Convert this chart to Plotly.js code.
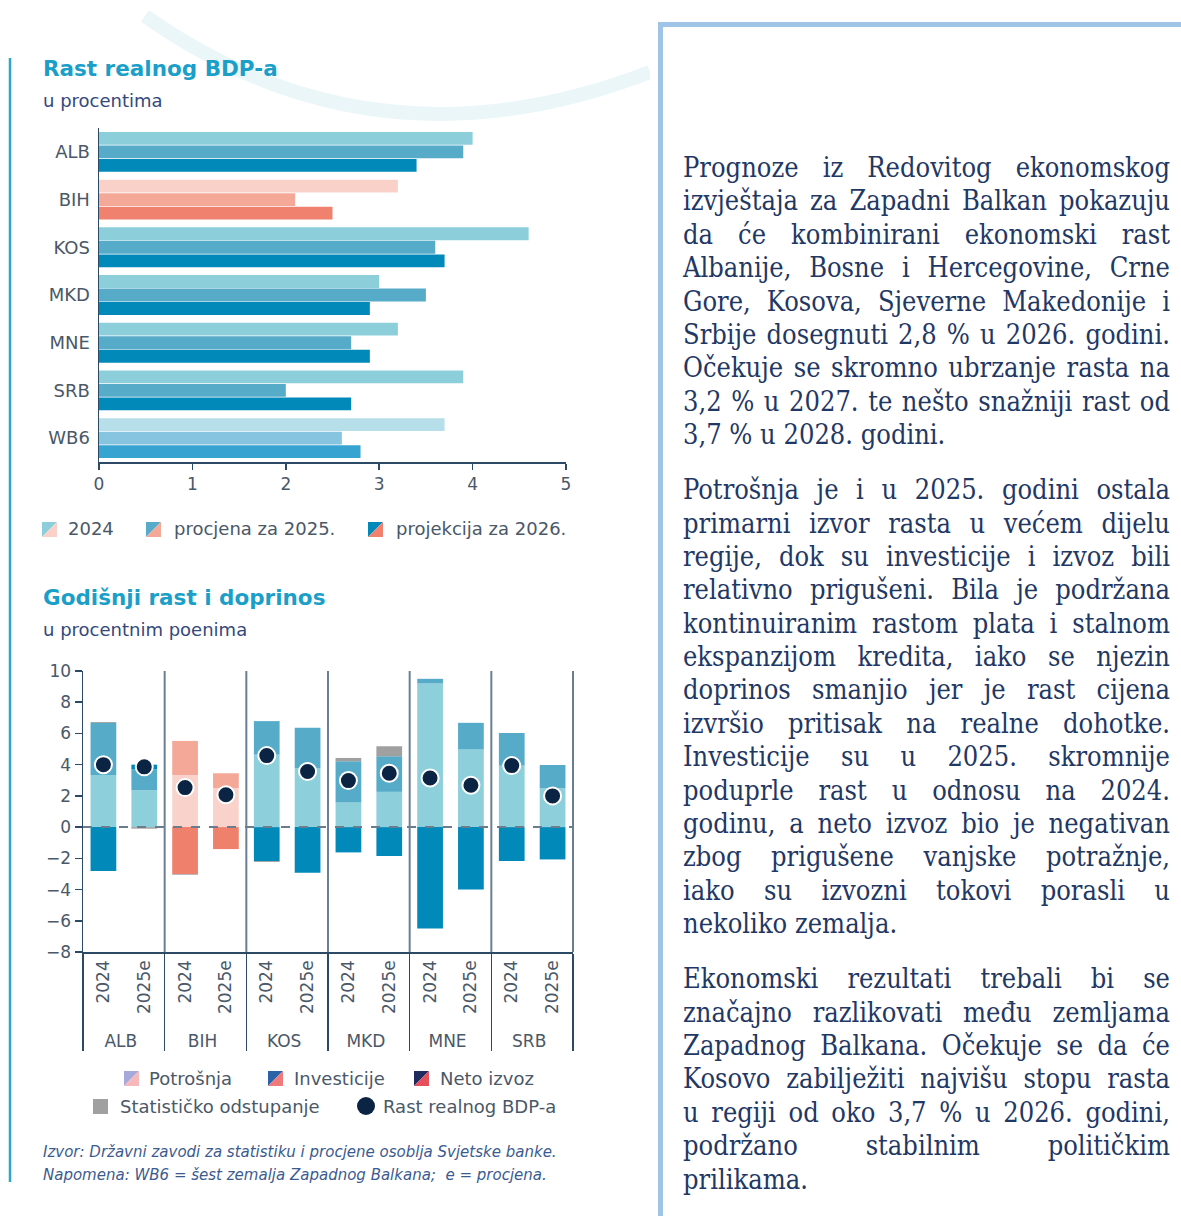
<!DOCTYPE html>
<html>
<head>
<meta charset="utf-8">
<script src="https://cdn.plot.ly/plotly-3.0.1.min.js"></script>
<style>
html,body{margin:0;padding:0;background:#fff;width:1181px;height:1216px;overflow:hidden;}
#figA,#figB{position:absolute;left:0;top:0;width:650px;height:1216px;}
#figB{pointer-events:none;}
#panel{position:absolute;left:658px;top:22px;width:523px;height:1194px;border-left:5px solid #9fc4e7;border-top:5px solid #9fc4e7;box-sizing:border-box;}
#text{position:absolute;left:683px;top:151px;width:487px;font-family:"DejaVu Serif Condensed","DejaVu Serif",serif;color:#1f3864;}
.l{height:33.4px;line-height:33.4px;text-align:justify;text-align-last:justify;overflow:visible;}
.l.last{text-align-last:left;}
.gap{height:21.6px;}
</style>
</head>
<body>
<div id="figA"></div>
<div id="figB"></div>
<div id="panel"></div>
<div id="text"></div>
<script>
// ---------------- DATA ----------------
// Chart 1: Rast realnog BDP-a (u procentima)
const countries = ['ALB', 'BIH', 'KOS', 'MKD', 'MNE', 'SRB', 'WB6'];
const gdp2024 = [4.0, 3.2, 4.6, 3.0, 3.2, 3.9, 3.7];
const gdp2025 = [3.9, 2.1, 3.6, 3.5, 2.7, 2.0, 2.6];
const gdp2026 = [3.4, 2.5, 3.7, 2.9, 2.9, 2.7, 2.8];
const seriesNames = ['2024', 'procjena za 2025.', 'projekcija za 2026.'];

// Chart 2: Godišnji rast i doprinos (u procentnim poenima)
const groups  = ['ALB', 'ALB', 'BIH', 'BIH', 'KOS', 'KOS', 'MKD', 'MKD', 'MNE', 'MNE', 'SRB', 'SRB'];
const periods = ['2024', '2025e', '2024', '2025e', '2024', '2025e', '2024', '2025e', '2024', '2025e', '2024', '2025e'];
const consumption = [3.34, 2.36, 3.34, 2.49, 4.64, 3.79, 1.60, 2.26, 9.20, 4.98, 3.94, 2.49];
const investment  = [3.33, 1.34, 2.18, 0.96, 2.15, 2.58, 2.62, 2.28, 0.30, 1.70, 2.09, 1.49];
const netExports  = [-2.81, 0.30, -3.00, -1.41, -2.17, -2.92, -1.62, -1.85, -6.50, -4.00, -2.17, -2.07];
const statDiscrepancy = [0.06, -0.10, -0.05, 0.00, -0.06, 0.00, 0.21, 0.64, 0.00, 0.00, 0.00, 0.00];
const realGdpGrowth = [4.0, 3.86, 2.53, 2.07, 4.58, 3.56, 2.98, 3.45, 3.15, 2.68, 3.94, 2.0];
const compNames = ['Potrošnja', 'Investicije', 'Neto izvoz', 'Statističko odstupanje', 'Rast realnog BDP-a'];

// Text panel
const paragraphs = [
  ['Prognoze iz Redovitog ekonomskog',
   'izvještaja za Zapadni Balkan pokazuju',
   'da će kombinirani ekonomski rast',
   'Albanije, Bosne i Hercegovine, Crne',
   'Gore, Kosova, Sjeverne Makedonije i',
   'Srbije dosegnuti 2,8 % u 2026. godini.',
   'Očekuje se skromno ubrzanje rasta na',
   '3,2 % u 2027. te nešto snažniji rast od',
   '3,7 % u 2028. godini.'],
  ['Potrošnja je i u 2025. godini ostala',
   'primarni izvor rasta u većem dijelu',
   'regije, dok su investicije i izvoz bili',
   'relativno prigušeni. Bila je podržana',
   'kontinuiranim rastom plata i stalnom',
   'ekspanzijom kredita, iako se njezin',
   'doprinos smanjio jer je rast cijena',
   'izvršio pritisak na realne dohotke.',
   'Investicije su u 2025. skromnije',
   'poduprle rast u odnosu na 2024.',
   'godinu, a neto izvoz bio je negativan',
   'zbog prigušene vanjske potražnje,',
   'iako su izvozni tokovi porasli u',
   'nekoliko zemalja.'],
  ['Ekonomski rezultati trebali bi se',
   'značajno razlikovati među zemljama',
   'Zapadnog Balkana. Očekuje se da će',
   'Kosovo zabilježiti najvišu stopu rasta',
   'u regiji od oko 3,7 % u 2026. godini,',
   'podržano stabilnim političkim',
   'prilikama.']
];

// ---------------- HELPERS ----------------
const W = 650, H = 1216;
const X = x => x / W;
const Y = y => 1 - y / H;
const FONT = '"DejaVu Sans", "Open Sans", sans-serif';
const AX = '#2c4a66';
const TXT = '#4a5868';

function label(x, y, text, size, color, extra) {
  return Object.assign({
    xref: 'paper', yref: 'paper', x: X(x), y: Y(y), xanchor: 'left', yanchor: 'middle',
    text: text, showarrow: false, font: { family: FONT, size: size, color: color }
  }, extra || {});
}
function swatch(x, y, s, c1, c2) {
  return [
    { type: 'path', xref: 'paper', yref: 'paper', layer: 'above',
      path: `M${X(x)},${Y(y)} L${X(x + s)},${Y(y)} L${X(x)},${Y(y + s)} Z`, fillcolor: c1, line: { width: 0 } },
    { type: 'path', xref: 'paper', yref: 'paper', layer: 'above',
      path: `M${X(x + s)},${Y(y)} L${X(x + s)},${Y(y + s)} L${X(x)},${Y(y + s)} Z`, fillcolor: c2, line: { width: 0 } }
  ];
}

// ---------------- FIGURE A (top chart + decorations) ----------------
const tealTop = ['#8ccfdb', '#56abc9', '#0089b9'];
const pinkTop = ['#f9d1c9', '#f4a998', '#ef816e'];
const wbTop   = ['#b6dfea', '#86c4e0', '#37a3d1'];
function topColors(k) {
  return countries.map(c => c === 'BIH' ? pinkTop[k] : (c === 'WB6' ? wbTop[k] : tealTop[k]));
}
const topSeries = [gdp2024, gdp2025, gdp2026];
const tracesA = topSeries.map((vals, k) => ({
  type: 'bar', orientation: 'h', y: countries, x: vals, name: seriesNames[k],
  marker: { color: topColors(k), line: { width: 0 } }, showlegend: false
}));

const shapesA = [
  // decorative arc
  { type: 'path', xref: 'paper', yref: 'paper', layer: 'below',
    path: `M${X(145)},${Y(16)} Q${X(375)},${Y(178)} ${X(650)},${Y(72)}`,
    line: { color: '#ebf6f8', width: 14 } },
  // left accent line
  { type: 'line', xref: 'paper', yref: 'paper', x0: X(10), x1: X(10), y0: Y(58), y1: Y(1182),
    line: { color: '#2aa5cc', width: 2.5 } }
].concat(
  swatch(42, 522, 15, tealTop[0], pinkTop[0]),
  swatch(146, 522, 15, tealTop[1], pinkTop[1]),
  swatch(368, 522, 15, tealTop[2], pinkTop[2])
);

const annA = [
  label(41, 68, '<b>Rast realnog BDP-a</b>', 21.5, '#1b9fc9'),
  label(41, 100, 'u procentima', 18, '#34497a'),
  label(66, 529, seriesNames[0], 18, TXT),
  label(172, 529, seriesNames[1], 18, TXT),
  label(394, 529, seriesNames[2], 18, TXT),
  label(41, 597, '<b>Godišnji rast i doprinos</b>', 21.5, '#1b9fc9'),
  label(41, 629, 'u procentnim poenima', 18, '#34497a')
];

const layoutA = {
  width: W, height: H, margin: { l: 0, r: 0, t: 0, b: 0 },
  paper_bgcolor: 'rgba(0,0,0,0)', plot_bgcolor: 'rgba(0,0,0,0)',
  barmode: 'group', bargap: 0.15, bargroupgap: 0.05, showlegend: false,
  font: { family: FONT, color: TXT },
  xaxis: { domain: [X(99), X(566)], anchor: 'y', range: [0, 5], dtick: 1, tick0: 0,
    ticks: 'outside', ticklen: 6, tickwidth: 1.5, tickcolor: AX,
    showline: true, linecolor: AX, linewidth: 1.5, showgrid: false, zeroline: false,
    tickfont: { size: 17, color: TXT } },
  yaxis: { domain: [Y(462), Y(128)], anchor: 'x', type: 'category', range: [6.5, -0.5],
    showline: true, linecolor: AX, linewidth: 1.5, ticks: '', showgrid: false, zeroline: false,
    tickfont: { size: 18, color: TXT }, ticklabelstandoff: 4 },
  shapes: shapesA, annotations: annA
};

Plotly.newPlot('figA', tracesA, layoutA, { staticPlot: true, displayModeBar: false });

// ---------------- FIGURE B (contributions chart) ----------------
const compTeal = ['#8dcfdb', '#56abc9', '#0089b9'];
const compPink = ['#f9d3cb', '#f4a897', '#ef806c'];
const compColor = k => groups.map(g => g === 'BIH' ? compPink[k] : compTeal[k]);
const compSeries = [consumption, investment, netExports];

const tracesB = compSeries.map((vals, k) => ({
  type: 'bar', x: [groups, periods], y: vals, name: compNames[k],
  marker: { color: compColor(k), line: { width: 0 } }, showlegend: false
}));
tracesB.push({
  type: 'bar', x: [groups, periods], y: statDiscrepancy, name: compNames[3],
  marker: { color: '#a0a0a0', line: { width: 0 } }, showlegend: false
});
tracesB.push({
  type: 'scatter', mode: 'markers', x: [groups, periods], y: realGdpGrowth, name: compNames[4],
  marker: { size: 17, color: '#0b2444', line: { color: '#ffffff', width: 2 } }, showlegend: false
});

const xDomB = [X(83), X(573)];
const yDomB = [Y(952), Y(671)];
const uniqueGroups = [...new Set(groups)];
const shapesB = [];
uniqueGroups.forEach((g, i) => {
  const xp = xDomB[0] + (i + 1) / uniqueGroups.length * (xDomB[1] - xDomB[0]);
  shapesB.push({ type: 'line', xref: 'paper', yref: 'paper', x0: xp, x1: xp, y0: yDomB[0], y1: yDomB[1],
    layer: 'below', line: { color: '#6a7f94', width: 2 } });
});
shapesB.push({ type: 'line', xref: 'paper', yref: 'y', x0: xDomB[0], x1: xDomB[1], y0: 0, y1: 0,
  layer: 'above', line: { color: '#6c7c8c', width: 2, dash: 'dash' } });

// legend swatches
shapesB.push(...swatch(124, 1071, 15, '#a5aadb', '#f6b8bb'));
shapesB.push(...swatch(268, 1071, 15, '#2a63a8', '#f07a7a'));
shapesB.push(...swatch(414, 1071, 15, '#1f2b5e', '#e5505c'));
shapesB.push({ type: 'rect', xref: 'paper', yref: 'paper', x0: X(93), x1: X(108), y0: Y(1114), y1: Y(1099),
  fillcolor: '#a0a0a0', line: { width: 0 } });
shapesB.push({ type: 'circle', xref: 'paper', yref: 'paper', x0: X(357), x1: X(375), y0: Y(1115), y1: Y(1097),
  fillcolor: '#0b2444', line: { width: 0 } });

const annB = [
  label(147, 1078, compNames[0], 18, TXT),
  label(292, 1078, compNames[1], 18, TXT),
  label(438, 1078, compNames[2], 18, TXT),
  label(118, 1106, compNames[3], 18, TXT),
  label(381, 1106, compNames[4], 18, TXT),
  label(41, 1152, '<i>Izvor: Državni zavodi za statistiku i procjene osoblja Svjetske banke.</i>', 15, '#3b5b8f'),
  label(41, 1175, '<i>Napomena: WB6 = šest zemalja Zapadnog Balkana;  e = procjena.</i>', 15, '#3b5b8f')
];

const layoutB = {
  width: W, height: H, margin: { l: 0, r: 0, t: 0, b: 0 },
  paper_bgcolor: 'rgba(0,0,0,0)', plot_bgcolor: 'rgba(0,0,0,0)',
  barmode: 'relative', bargap: 0.37, showlegend: false,
  font: { family: FONT, color: TXT },
  xaxis: { domain: xDomB, anchor: 'y', type: 'multicategory', range: [-0.5, 11.5],
    tickangle: -90, showdividers: true, dividercolor: AX, dividerwidth: 1.5,
    showline: true, linecolor: AX, linewidth: 1.5, showgrid: false, zeroline: false,
    tickfont: { size: 17, color: TXT } },
  yaxis: { domain: yDomB, anchor: 'x', range: [-8, 10], dtick: 2, tick0: 0,
    ticks: 'outside', ticklen: 7, tickwidth: 1.5, tickcolor: AX,
    showline: true, linecolor: AX, linewidth: 1.5, showgrid: false, zeroline: false,
    tickfont: { size: 17, color: TXT } },
  shapes: shapesB, annotations: annB
};

Plotly.newPlot('figB', tracesB, layoutB, { staticPlot: true, displayModeBar: false });

// ---------------- TEXT PANEL ----------------
(function () {
  const box = document.getElementById('text');
  const fam = getComputedStyle(box).fontFamily;
  const cv = document.createElement('canvas').getContext('2d');
  cv.font = '100px ' + fam;
  let maxW = 0;
  paragraphs.forEach(p => p.forEach(line => { maxW = Math.max(maxW, cv.measureText(line).width); }));
  const size = Math.min(27, Math.floor(480 / maxW * 100 * 10) / 10);
  box.style.fontSize = size + 'px';
  paragraphs.forEach((p, pi) => {
    if (pi > 0) { const g = document.createElement('div'); g.className = 'gap'; box.appendChild(g); }
    p.forEach((line, li) => {
      const d = document.createElement('div');
      d.className = 'l' + (li === p.length - 1 ? ' last' : '');
      d.textContent = line;
      box.appendChild(d);
    });
  });
})();
</script>
</body>
</html>
